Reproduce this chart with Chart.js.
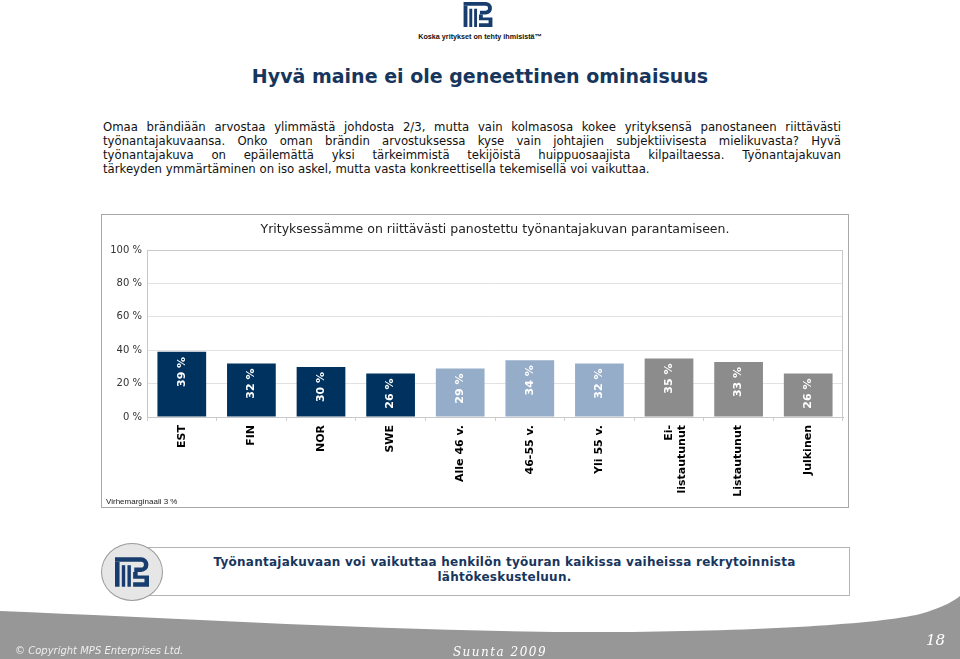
<!DOCTYPE html>
<html lang="fi">
<head>
<meta charset="utf-8">
<title>Hyvä maine ei ole geneettinen ominaisuus</title>
<script src="https://cdn.jsdelivr.net/npm/chart.js@4.4.1/dist/chart.umd.min.js"></script>
<style>
  html, body { margin: 0; padding: 0; background: #fff; }
  #sivu { position: relative; width: 960px; height: 659px; overflow: hidden; font-family: "DejaVu Sans", Verdana, sans-serif; }
  .logo { position: absolute; left: 463px; top: 2px; width: 30px; height: 25px; }
  .iskulause { position: absolute; left: 380px; width: 200px; top: 32px; text-align: center;
    font-family: "Liberation Sans Narrow", "Liberation Sans", sans-serif; font-weight: bold; font-size: 7.2px; color: #111; }
  h1 { position: absolute; left: 0; width: 960px; top: 64px; margin: 0; text-align: center;
    font-family: "DejaVu Sans", sans-serif; font-size: 19px; line-height: 24px; color: #17365d; }
  .teksti { position: absolute; left: 103px; top: 121px; width: 738px; font-size: 11.7px; line-height: 13.9px; color: #111; }
  .teksti div { white-space: nowrap; text-align: justify; text-align-last: justify; }
  .teksti div.viimeinen { text-align-last: left; }
  #kaavio { position: absolute; left: 101px; top: 214px; width: 746px; height: 292px; border: 1px solid #a8a8a8; }
  #kaavio canvas { display: block; }
  .virhe { position: absolute; left: 4px; top: 282px; font-family: "Liberation Sans Narrow", "Liberation Sans", sans-serif; font-size: 8px; color: #222; }
  .laatikko { position: absolute; left: 131px; top: 547px; width: 717px; height: 47px; border: 1px solid #b4b4b4; background: #fff; }
  .laatikko p { position: absolute; left: 28px; right: 0; top: 7px; margin: 0; text-align: center;
    font-size: 12px; line-height: 15px; font-weight: bold; letter-spacing: 0.25px; color: #17365d; }
  .ympyra { position: absolute; left: 101px; top: 543px; width: 60px; height: 56px; border-radius: 50%;
    background: #e6e6e6; border: 1px solid #9a9a9a; }
  .ympyra svg { position: absolute; left: 13px; top: 13px; width: 34px; height: 30px; }
  .alapalkki { position: absolute; left: 0; top: 590px; width: 960px; height: 69px; }
  .copy { position: absolute; left: 15px; top: 645px; font-style: italic; font-size: 10px; color: #eeeeee; }
  .suunta { position: absolute; left: 430px; width: 140px; top: 645px; text-align: center; font-style: italic;
    font-family: "DejaVu Serif", serif; font-size: 12px; letter-spacing: 1.5px; color: #fff; }
  .sivunro { position: absolute; left: 926px; top: 631px; font-style: italic; font-family: "DejaVu Serif", serif; font-size: 15px; color: #fff; }
</style>
</head>
<body>
<div id="sivu">

  <svg width="0" height="0" style="position:absolute">
    <symbol id="mps" viewBox="0 0 30 26">
      <path fill="#173c6e" d="M0 0 H23 A6.5 6.5 0 0 1 23 13 H17 V9 H23 A2.5 2.5 0 0 0 23 4 H0 Z"/>
      <rect fill="#173c6e" x="0" y="4" width="4" height="22"/>
      <rect fill="#173c6e" x="6" y="7" width="3" height="19"/>
      <rect fill="#173c6e" x="11" y="7" width="3" height="19"/>
      <path fill="#173c6e" d="M16 13 H20 V16 H30 V26 H16 V22 H26 V19 H16 Z"/>
    </symbol>
  </svg>

  <svg class="logo"><use href="#mps"/></svg>
  <div class="iskulause">Koska yritykset on tehty ihmisistä™</div>

  <h1>Hyvä maine ei ole geneettinen ominaisuus</h1>

  <div class="teksti">
    <div>Omaa brändiään arvostaa ylimmästä johdosta 2/3, mutta vain kolmasosa kokee yrityksensä panostaneen riittävästi</div>
    <div>työnantajakuvaansa. Onko oman brändin arvostuksessa kyse vain johtajien subjektiivisesta mielikuvasta? Hyvä</div>
    <div>työnantajakuva on epäilemättä yksi tärkeimmistä tekijöistä huippuosaajista kilpailtaessa. Työnantajakuvan</div>
    <div class="viimeinen">tärkeyden ymmärtäminen on iso askel, mutta vasta konkreettisella tekemisellä voi vaikuttaa.</div>
  </div>

  <div id="kaavio">
    <canvas id="grafiikka" width="746" height="292"></canvas>
    <div class="virhe">Virhemarginaali 3 %</div>
  </div>

  <div class="laatikko">
    <p>Työnantajakuvaan voi vaikuttaa henkilön työuran kaikissa vaiheissa rekrytoinnista<br>lähtökeskusteluun.</p>
  </div>
  <div class="ympyra"><svg><use href="#mps"/></svg></div>

  <svg class="alapalkki" viewBox="0 590 960 69">
    <path fill="#979797" d="M0 611 C 200 619, 420 633, 620 632 C 760 631, 880 624, 920 614 C 945 607, 955 600, 960 596 L 960 659 L 0 659 Z"/>
  </svg>
  <div class="copy">© Copyright MPS Enterprises Ltd.</div>
  <div class="suunta">Suunta 2009</div>
  <div class="sivunro">18</div>
</div>

<script>
// kategoriat ja arvot
const ryhmat = ['EST', 'FIN', 'NOR', 'SWE', 'Alle 46 v.', '46-55 v.', 'Yli 55 v.', ['Ei-', 'listautunut'], 'Listautunut', 'Julkinen'];
const osuudet = [39, 32, 30, 26, 29, 34, 32, 35, 33, 26];
const pylvasVarit = ['#00325f', '#00325f', '#00325f', '#00325f',
                     '#96adc9', '#96adc9', '#96adc9',
                     '#8c8c8c', '#8c8c8c', '#8c8c8c'];
const asteikko = [0, 20, 40, 60, 80, 100];

// arvot pylväiden sisään pystyyn
const arvoTekstit = {
  id: 'arvoTekstit',
  afterDatasetsDraw(chart) {
    const ctx = chart.ctx;
    const meta = chart.getDatasetMeta(0);
    meta.data.forEach((pylvas, i) => {
      ctx.save();
      ctx.translate(pylvas.x, pylvas.y + 5);
      ctx.rotate(-Math.PI / 2);
      ctx.font = 'bold 11px "DejaVu Sans"';
      ctx.fillStyle = '#ffffff';
      ctx.textAlign = 'right';
      ctx.textBaseline = 'middle';
      ctx.fillText(osuudet[i] + ' %', 0, 0);
      ctx.restore();
    });
  }
};

// kuvaajan reunaviiva
const reunus = {
  id: 'reunus',
  beforeDatasetsDraw(chart) {
    const a = chart.chartArea;
    const ctx = chart.ctx;
    ctx.save();
    ctx.strokeStyle = '#c8c8c8';
    ctx.lineWidth = 1;
    ctx.strokeRect(a.left + 0.5, a.top + 0.5, a.right - a.left - 1, a.bottom - a.top);
    ctx.restore();
  }
};

new Chart(document.getElementById('grafiikka'), {
  type: 'bar',
  data: {
    labels: ryhmat,
    datasets: [{
      data: osuudet,
      backgroundColor: pylvasVarit,
      borderWidth: 0,
      categoryPercentage: 1,
      barPercentage: 0.7
    }]
  },
  options: {
    responsive: false,
    animation: false,
    layout: { padding: { left: 0, right: 5, top: 0, bottom: 0 } },
    plugins: {
      legend: { display: false },
      tooltip: { enabled: false },
      title: {
        display: true,
        fullSize: false,
        text: 'Yrityksessämme on riittävästi panostettu työnantajakuvan parantamiseen.',
        color: '#222',
        font: { family: 'DejaVu Sans', size: 12.5, weight: 'normal' },
        padding: { top: 7, bottom: 13 }
      }
    },
    scales: {
      x: {
        grid: { offset: true, drawOnChartArea: false, drawTicks: true, tickLength: 4, color: '#d0d0d0' },
        border: { color: '#bdbdbd' },
        ticks: {
          color: '#000',
          font: { family: 'DejaVu Sans', size: 11, weight: 'bold' },
          minRotation: 90,
          maxRotation: 90,
          padding: 4,
          autoSkip: false
        },
        afterFit(scale) { scale.height = 90; }
      },
      y: {
        min: 0,
        max: 100,
        afterBuildTicks(scale) { scale.ticks = asteikko.map(v => ({ value: v })); },
        grid: { color: '#e2e2e2', drawTicks: false },
        border: { color: '#bdbdbd' },
        ticks: {
          color: '#333',
          font: { family: 'DejaVu Sans', size: 10 },
          padding: 5,
          callback: v => v + ' %'
        },
        afterFit(scale) { scale.width = 45; }
      }
    }
  },
  plugins: [reunus, arvoTekstit]
});
</script>
</body>
</html>
